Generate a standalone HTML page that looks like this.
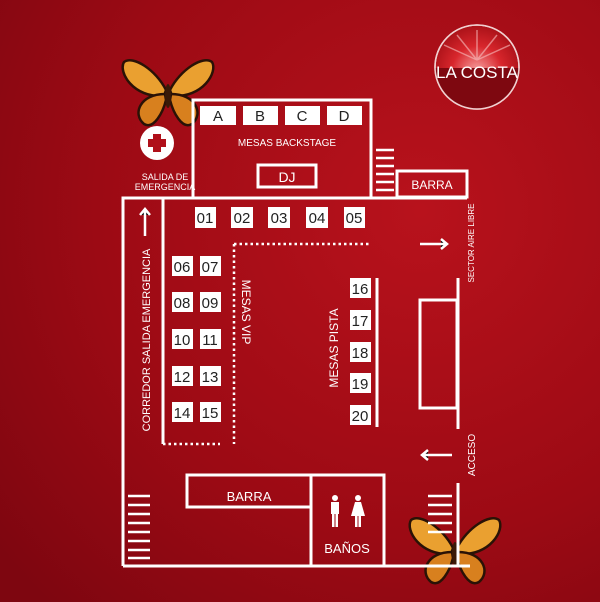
<!DOCTYPE html>
<html><head><meta charset="utf-8"><style>
html,body{margin:0;padding:0;width:600px;height:602px;overflow:hidden}
svg{display:block}
text{font-family:"Liberation Sans",sans-serif;fill:#fff}
.t{fill:#222;font-size:15px;text-anchor:middle}
</style></head><body>
<svg width="600" height="602" viewBox="0 0 600 602" xmlns="http://www.w3.org/2000/svg">
<defs>
<radialGradient id="bg" cx="0.7" cy="0.35" r="0.9">
<stop offset="0" stop-color="#b8121c"/><stop offset="0.6" stop-color="#9c0a14"/><stop offset="1" stop-color="#7e0610"/>
</radialGradient>
<radialGradient id="lg" cx="0.5" cy="0.55" r="0.6">
<stop offset="0" stop-color="#f6a0a0"/><stop offset="0.5" stop-color="#d8262c"/><stop offset="1" stop-color="#a00d14"/>
</radialGradient>
<clipPath id="lc"><circle cx="477" cy="67" r="42"/></clipPath>
<g id="bf">
<path d="M-2,0 C-12,-20 -35,-35 -44,-28 C-50,-18 -35,8 -4,6 Z" fill="#eaa030" stroke="#2a1206" stroke-width="2.5"/>
<path d="M2,0 C12,-20 35,-35 44,-28 C50,-18 35,8 4,6 Z" fill="#eaa030" stroke="#2a1206" stroke-width="2.5"/>
<path d="M-3,4 C-28,4 -36,24 -24,34 C-14,40 -5,22 -2,10 Z" fill="#d8801e" stroke="#2a1206" stroke-width="2.5"/>
<path d="M3,4 C28,4 36,24 24,34 C14,40 5,22 2,10 Z" fill="#d8801e" stroke="#2a1206" stroke-width="2.5"/>
<ellipse cx="0" cy="6" rx="3" ry="12" fill="#3a1a08"/>
</g>
</defs>
<rect width="600" height="602" fill="url(#bg)"/>
<!-- logo -->
<circle cx="477" cy="67" r="42" fill="url(#lg)" stroke="#f0d0d0" stroke-width="1.5"/>
<g stroke="#f8c0c0" stroke-width="1.5" opacity="0.6">
<path d="M477,60 L477,30 M477,60 L457,35 M477,60 L497,35 M477,60 L444,45 M477,60 L510,45"/>
</g>
<rect x="430" y="68" width="100" height="50" fill="#7e0810" clip-path="url(#lc)"/>
<circle cx="477" cy="67" r="42" fill="none" stroke="#f0d0d0" stroke-width="1.5"/>
<text x="477" y="78" font-size="17" text-anchor="middle">LA COSTA</text>
<!-- butterflies -->
<use href="#bf" transform="translate(168,90)"/>
<use href="#bf" transform="translate(455,548)"/>
<g fill="none" stroke="#fff" stroke-width="3">
<rect x="193" y="100" width="178" height="98"/>
<rect x="258" y="165" width="58" height="22"/>
<rect x="397" y="171" width="70" height="26"/>
<path d="M123,566 V198 H467"/>
<path d="M163,198 V444"/>
<path d="M458,278 V429 M458,483 V566 M123,566 H470"/>
<rect x="420" y="300" width="37" height="108"/>
<path d="M377,278 V427"/>
<rect x="187" y="475" width="124" height="32"/>
<rect x="311" y="475" width="73" height="91"/>
</g>
<g stroke="#fff" stroke-width="2.5" stroke-dasharray="2.5 3" fill="none">
<path d="M163,444 H220"/><path d="M234,244 V444"/><path d="M234,244 H370"/>
</g>
<g stroke="#fff" stroke-width="2.5">
<path d="M376,150 H394 M376,158 H394 M376,166 H394 M376,174 H394 M376,182 H394 M376,190 H394"/>
<path d="M128,496 H150 M128,505 H150 M128,514 H150 M128,523 H150 M128,532 H150 M128,541 H150 M128,550 H150 M128,558 H150"/>
<path d="M428,496 H452 M428,505 H452 M428,514 H452 M428,523 H452 M428,532 H452"/>
<path d="M420,244 H446 M441,239 L447,244 L441,249"/>
<path d="M423,455 H452 M428,450 L422,455 L428,460"/>
<path d="M145,236 V210 M140,215 L145,209 L150,215"/>
</g>
<!-- tables -->
<g fill="#fff">
<rect x="200" y="106" width="36" height="19"/><rect x="243" y="106" width="35" height="19"/><rect x="285" y="106" width="35" height="19"/><rect x="327" y="106" width="35" height="19"/>
<rect x="195" y="207" width="21" height="21"/><rect x="231" y="207" width="22" height="21"/><rect x="268" y="207" width="22" height="21"/><rect x="306" y="207" width="22" height="21"/><rect x="344" y="207" width="21" height="21"/>
<rect x="172" y="256" width="21" height="20"/><rect x="200" y="256" width="21" height="20"/>
<rect x="172" y="292" width="21" height="20"/><rect x="200" y="292" width="21" height="20"/>
<rect x="172" y="329" width="21" height="20"/><rect x="200" y="329" width="21" height="20"/>
<rect x="172" y="366" width="21" height="20"/><rect x="200" y="366" width="21" height="20"/>
<rect x="172" y="402" width="21" height="20"/><rect x="200" y="402" width="21" height="20"/>
<rect x="350" y="278" width="21" height="20"/><rect x="350" y="310" width="21" height="20"/><rect x="350" y="342" width="21" height="20"/><rect x="350" y="373" width="21" height="20"/><rect x="350" y="405" width="21" height="20"/>
<circle cx="157" cy="143" r="17"/>
</g>
<path d="M153,134 h8 v5 h5 v8 h-5 v5 h-8 v-5 h-5 v-8 h5 z" fill="#b0101a"/>
<g class="t">
<text x="218" y="121" class="t">A</text><text x="260" y="121" class="t">B</text><text x="302" y="121" class="t">C</text><text x="344" y="121" class="t">D</text>
<text x="205" y="223" class="t">01</text><text x="242" y="223" class="t">02</text><text x="279" y="223" class="t">03</text><text x="317" y="223" class="t">04</text><text x="354" y="223" class="t">05</text>
<text x="182" y="272" class="t">06</text><text x="210" y="272" class="t">07</text>
<text x="182" y="308" class="t">08</text><text x="210" y="308" class="t">09</text>
<text x="182" y="345" class="t">10</text><text x="210" y="345" class="t">11</text>
<text x="182" y="382" class="t">12</text><text x="210" y="382" class="t">13</text>
<text x="182" y="418" class="t">14</text><text x="210" y="418" class="t">15</text>
<text x="360" y="294" class="t">16</text><text x="360" y="326" class="t">17</text><text x="360" y="358" class="t">18</text><text x="360" y="389" class="t">19</text><text x="360" y="421" class="t">20</text>
</g>
<text x="287" y="146" font-size="10" text-anchor="middle">MESAS BACKSTAGE</text>
<text x="287" y="182" font-size="14" text-anchor="middle">DJ</text>
<text x="432" y="189" font-size="12" text-anchor="middle">BARRA</text>
<text x="249" y="501" font-size="13" text-anchor="middle">BARRA</text>
<text x="347" y="553" font-size="13" text-anchor="middle">BAÑOS</text>
<text x="165" y="180" font-size="9" text-anchor="middle">SALIDA DE</text>
<text x="165" y="190" font-size="9" text-anchor="middle">EMERGENCIA</text>
<text transform="translate(150,340) rotate(-90)" font-size="11" text-anchor="middle">CORREDOR SALIDA EMERGENCIA</text>
<text transform="translate(242,312) rotate(90)" font-size="12" text-anchor="middle">MESAS VIP</text>
<text transform="translate(338,348) rotate(-90)" font-size="12" text-anchor="middle">MESAS PISTA</text>
<text transform="translate(474,243) rotate(-90)" font-size="8" text-anchor="middle">SECTOR AIRE LIBRE</text>
<text transform="translate(475,455) rotate(-90)" font-size="10" text-anchor="middle">ACCESO</text>
<!-- wc icons -->
<g fill="#fff">
<circle cx="335" cy="498" r="3"/><rect x="331" y="502" width="8" height="12"/><rect x="332" y="513" width="2.5" height="14"/><rect x="335.5" y="513" width="2.5" height="14"/>
<circle cx="358" cy="498" r="3"/><path d="M355,502 h6 l4,14 h-14 z"/><rect x="355" y="515" width="2.5" height="12"/><rect x="358.5" y="515" width="2.5" height="12"/>
</g>
</svg>
</body></html>
